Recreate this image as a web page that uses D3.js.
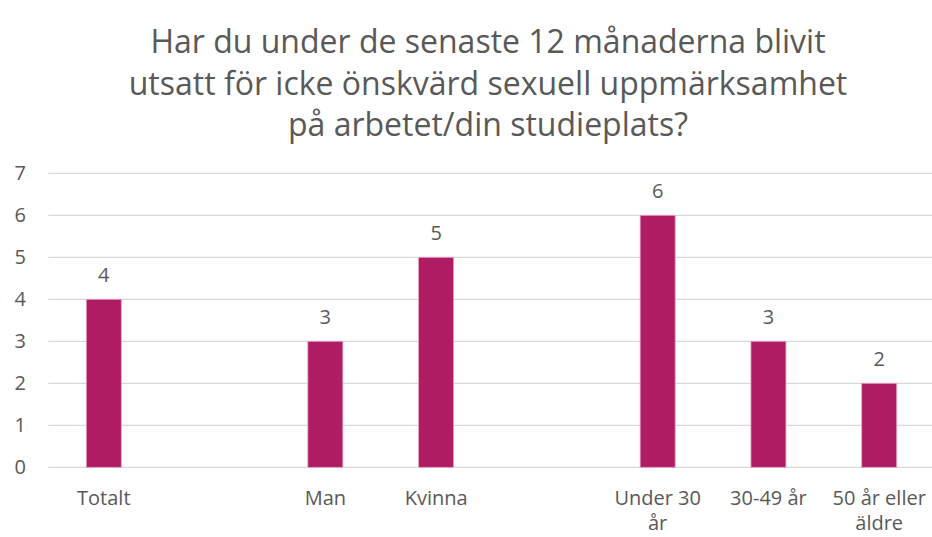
<!DOCTYPE html>
<html>
<head>
<meta charset="utf-8">
<title>Icke önskvärd sexuell uppmärksamhet</title>
<script src="https://cdnjs.cloudflare.com/ajax/libs/d3/7.8.5/d3.min.js"></script>
<style>
  body { margin: 0; background: #fff; }
  text { font-family: "Open Sans", Lato, sans-serif; fill: #595959; }
  .grid line { stroke: #d9d9d9; stroke-width: 1.3; }
  .bar { fill: #b01c64; stroke: #e8a3c3; stroke-width: 0.8; }
</style>
</head>
<body>
<svg width="932" height="537"></svg>
<script>
// data -- blank slots are the gaps between groups
var categories = ["Totalt", "gap1", "Man", "Kvinna", "gap2", "Under 30 år", "30-49 år", "50 år eller äldre"];
var labelLines = [["Totalt"], [], ["Man"], ["Kvinna"], [], ["Under 30", "år"], ["30-49 år"], ["50 år eller", "äldre"]];
var values = [4, null, 3, 5, null, 6, 3, 2];
var yTicks = [0, 1, 2, 3, 4, 5, 6, 7];
var titleLines = [
  "Har du under de senaste 12 månaderna blivit",
  "utsatt för icke önskvärd sexuell uppmärksamhet",
  "på arbetet/din studieplats?"
];

var svg = d3.select("svg"),
    width = +svg.attr("width"),
    height = +svg.attr("height");

var plotLeft = 48.4, plotRight = 934.6, plotTop = 173.3, plotBottom = 467.3;

var x = d3.scaleBand()
    .domain(categories)
    .range([plotLeft, plotRight])
    .paddingInner(0.684)
    .paddingOuter(0.342);

var y = d3.scaleLinear()
    .domain([0, 7])
    .range([plotBottom, plotTop]);

// title
svg.append("text")
    .attr("text-anchor", "middle")
    .style("font-size", "32px")
    .selectAll("tspan")
    .data(titleLines)
    .enter().append("tspan")
      .attr("x", 488)
      .attr("y", function(d, i) { return 53 + i * 41.5; })
      .text(function(d) { return d; });

// gridlines
svg.append("g")
    .attr("class", "grid")
    .selectAll("line")
    .data(yTicks)
    .enter().append("line")
      .attr("x1", plotLeft)
      .attr("x2", width)
      .attr("y1", function(d) { return y(d); })
      .attr("y2", function(d) { return y(d); });

// y tick labels
svg.append("g")
    .selectAll("text")
    .data(yTicks)
    .enter().append("text")
      .attr("x", 26)
      .attr("y", function(d) { return y(d); })
      .attr("dy", "0.35em")
      .attr("text-anchor", "end")
      .style("font-size", "20px")
      .text(function(d) { return d; });

var rows = categories.map(function(c, i) { return {cat: c, value: values[i], lines: labelLines[i]}; });
var filled = rows.filter(function(d) { return d.value != null; });

// bars
svg.append("g")
    .selectAll("rect")
    .data(filled)
    .enter().append("rect")
      .attr("class", "bar")
      .attr("x", function(d) { return x(d.cat); })
      .attr("width", x.bandwidth())
      .attr("y", function(d) { return y(d.value); })
      .attr("height", function(d) { return y(0) - y(d.value); });

// value labels
svg.append("g")
    .selectAll("text")
    .data(filled)
    .enter().append("text")
      .attr("x", function(d) { return x(d.cat) + x.bandwidth() / 2; })
      .attr("y", function(d) { return y(d.value) - 17; })
      .attr("text-anchor", "middle")
      .style("font-size", "20px")
      .text(function(d) { return d.value; });

// category labels
var cat = svg.append("g")
    .selectAll("text")
    .data(rows)
    .enter().append("text")
      .attr("text-anchor", "middle")
      .style("font-size", "20px");

cat.selectAll("tspan")
    .data(function(d) { return d.lines.map(function(l) { return {cat: d.cat, line: l}; }); })
    .enter().append("tspan")
      .attr("x", function(d) { return x(d.cat) + x.bandwidth() / 2; })
      .attr("y", function(d, i) { return 505 + i * 25; })
      .text(function(d) { return d.line; });
</script>
</body>
</html>
